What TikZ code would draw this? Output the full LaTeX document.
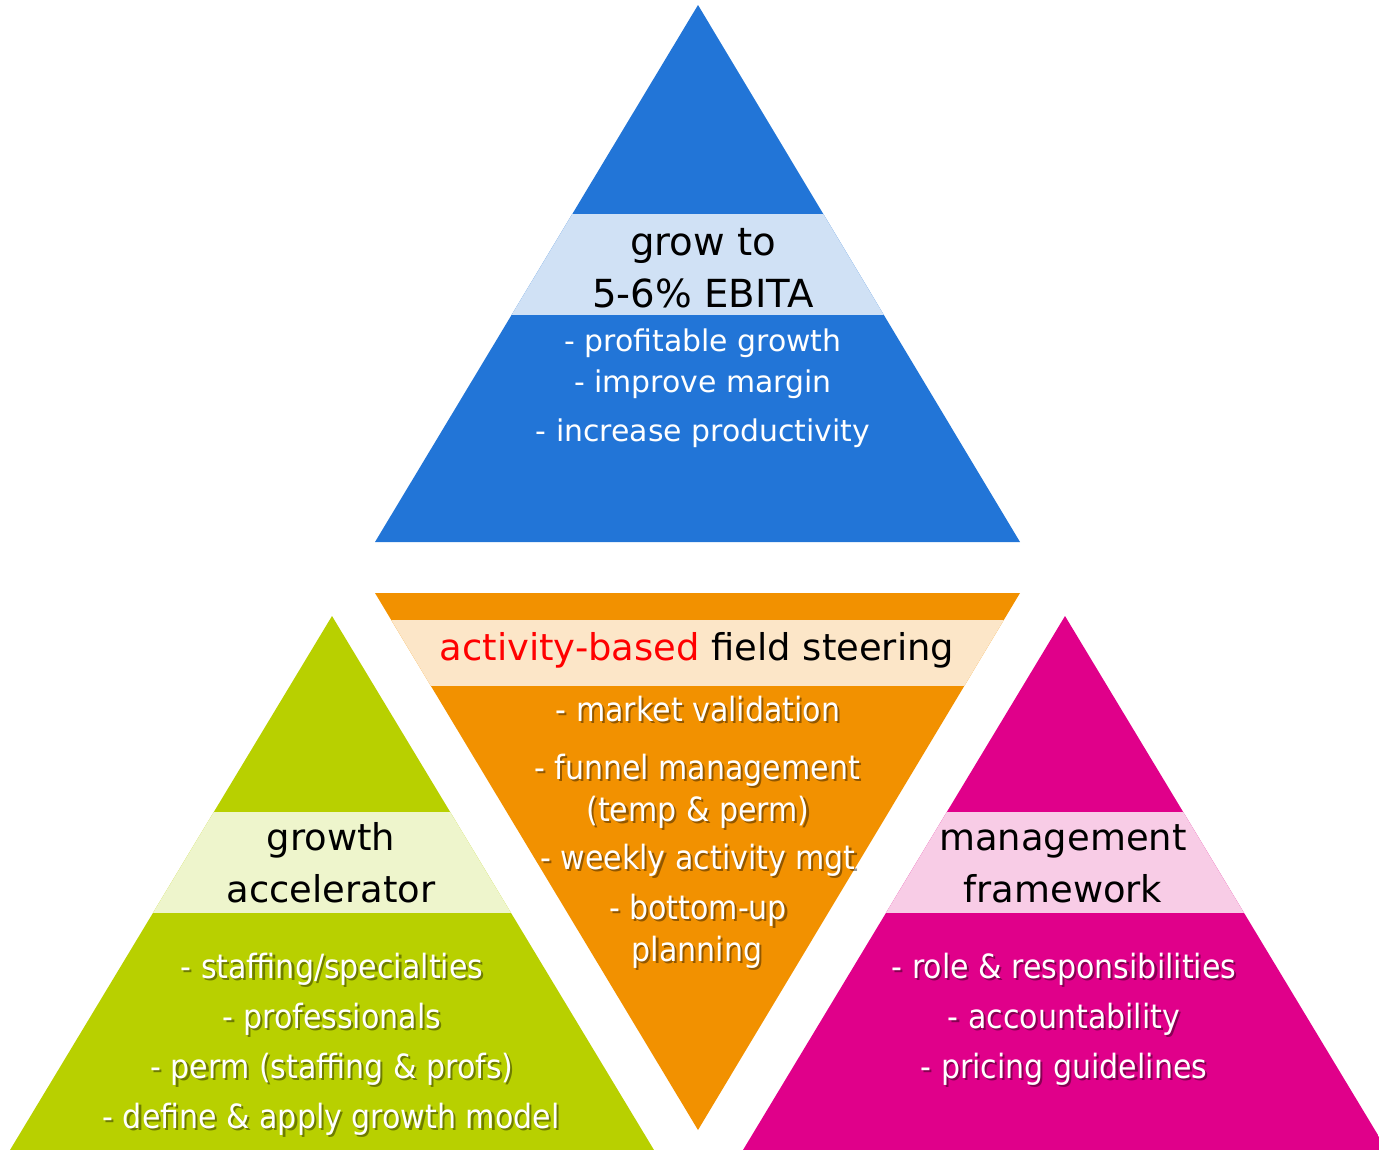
\documentclass[tikz,border=0pt]{standalone}
\usepackage{fontspec}
\setmainfont{DejaVu Sans}
\newfontfamily\narrowfont{DejaVu Sans}[FakeStretch=0.9]

\definecolor{topblue}{HTML}{2275D7}
\definecolor{toplight}{HTML}{D0E1F5}
\definecolor{steerorange}{HTML}{F29100}
\definecolor{steerlight}{HTML}{FCE6C8}
\definecolor{accgreen}{HTML}{B8D000}
\definecolor{acclight}{HTML}{EEF5CC}
\definecolor{mgtpink}{HTML}{E0008A}
\definecolor{mgtlight}{HTML}{F8CCE6}

\newcommand{\dropline}[3]{%
  \node[sublist, drop] at ([xshift=1.2pt, yshift=-1.2pt]#2) {#3};
  \node[sublist] (#1) at (#2) {#3};%
}

\begin{document}
\begin{tikzpicture}[x=0.02cm, y=-0.02cm,
  title/.style={font=\fontsize{21}{29.5}\selectfont, inner sep=0pt, anchor=base},
  toptitle/.style={title, font=\fontsize{22}{29.5}\selectfont},
  toplist/.style={font=\fontsize{17}{24}\selectfont, text=white, inner sep=0pt, anchor=base},
  sublist/.style={font=\narrowfont\fontsize{19}{28}\selectfont, text=white, inner sep=0pt, anchor=base},
  drop/.style={text=black, text opacity=0.4}]

\useasboundingbox (0,0) rectangle (1379,1150);
\clip (0,0) rectangle (1379,1150);

% grow to 5-6% EBITA
\begin{scope}
\clip (698,5) -- (1020,542) -- (375,542) -- cycle;
\fill[topblue] (300,0) rectangle (1100,560);
\fill[toplight] (300,214) rectangle (1100,315);
\end{scope}

% activity-based field steering
\begin{scope}
\clip (375,593) -- (1020,593) -- (698,1130) -- cycle;
\fill[steerorange] (300,580) rectangle (1100,1140);
\fill[steerlight] (300,620) rectangle (1100,686);
\end{scope}

% growth accelerator
\begin{scope}
\clip (332,616) -- (654,1150) -- (10,1150) -- cycle;
\fill[accgreen] (0,600) rectangle (700,1150);
\fill[acclight] (0,812) rectangle (700,913);
\end{scope}

% management framework
\begin{scope}
\clip (1065,616) -- (1387,1150) -- (743,1150) -- cycle;
\fill[mgtpink] (700,600) rectangle (1400,1150);
\fill[mgtlight] (700,812) rectangle (1400,913);
\end{scope}

\node[toptitle] (grow) at (703,255) {grow to};
\node[toptitle] (ebita) at (703,307) {5-6\% EBITA};
\node[toplist] (prof) at (703,351) {- profitable growth};
\node[toplist] (margin) at (703,392) {- improve margin};
\node[toplist] (prod) at (703,441) {- increase productivity};

\node[title] (steer) at (697,660) {\textcolor{red}{activity-based} field steering};
\dropline{valid}{698,721}{- market validation}
\dropline{funnel}{697,779}{- funnel management}
\dropline{temp}{698,821}{(temp \& perm)}
\dropline{weekly}{698,869}{- weekly activity mgt}
\dropline{bottom}{698,919}{- bottom-up}
\dropline{plan}{697,961}{planning}

\node[title] (growth) at (331,850) {growth};
\node[title] (accel) at (331,902) {accelerator};
\dropline{staff}{332,978}{- staffing/specialties}
\dropline{profs}{332,1028}{- professionals}
\dropline{perm}{332,1078}{- perm (staffing \& profs)}
\dropline{model}{331,1128}{- define \& apply growth model}

\node[title] (mgmt) at (1063,850) {management};
\node[title] (frame) at (1063,902) {framework};
\dropline{role}{1064,978}{- role \& responsibilities}
\dropline{account}{1064,1028}{- accountability}
\dropline{pricing}{1064,1078}{- pricing guidelines}

\end{tikzpicture}
\end{document}
